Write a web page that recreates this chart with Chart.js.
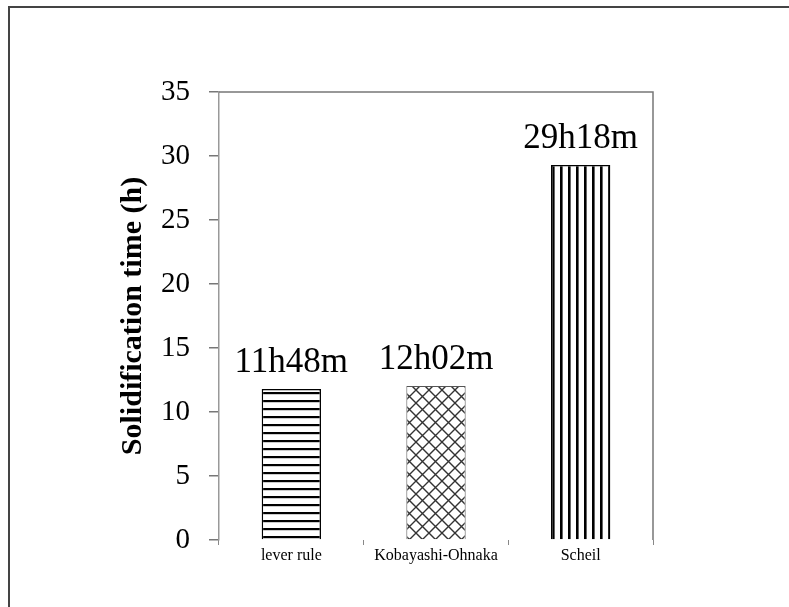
<!DOCTYPE html>
<html>
<head>
<meta charset="utf-8">
<script src="https://cdn.jsdelivr.net/npm/chart.js@4"></script>
<style>
  html, body { margin: 0; padding: 0; background: #fff; }
  #wrap { position: relative; width: 789px; height: 607px; overflow: hidden; background: #fff; }
  #frame { position: absolute; left: 8px; top: 6px; width: 900px; height: 700px;
           border-top: 2px solid #444; border-left: 2px solid #444; }
  canvas { position: absolute; left: 0; top: 0; }
</style>
</head>
<body>
<div id="wrap">
  <div id="frame"></div>
  <canvas id="c" width="789" height="607"></canvas>
</div>
<script>
const categories = ['lever rule', 'Kobayashi-Ohnaka', 'Scheil'];
const solidTimes = [11.8, 12.03, 29.3];
const timeLabels = ['11h48m', '12h02m', '29h18m'];
const yTicks = [0, 5, 10, 15, 20, 25, 30, 35];

function makePattern(kind) {
  const p = document.createElement('canvas');
  const ctx = p.getContext('2d');
  if (kind === 'h') {
    p.width = 8; p.height = 8;
    ctx.fillStyle = '#fff'; ctx.fillRect(0, 0, 8, 8);
    ctx.fillStyle = '#000'; ctx.fillRect(0, 0, 8, 2.2);
  } else if (kind === 'v') {
    p.width = 8; p.height = 8;
    ctx.fillStyle = '#fff'; ctx.fillRect(0, 0, 8, 8);
    ctx.fillStyle = '#000'; ctx.fillRect(0, 0, 2.6, 8);
  } else {
    const s = 13;
    p.width = s; p.height = s;
    ctx.fillStyle = '#fff'; ctx.fillRect(0, 0, s, s);
    ctx.strokeStyle = '#333'; ctx.lineWidth = 1.4;
    ctx.beginPath();
    ctx.moveTo(-1, -1); ctx.lineTo(s + 1, s + 1);
    ctx.moveTo(s + 1, -1); ctx.lineTo(-1, s + 1);
    ctx.stroke();
  }
  return document.getElementById('c').getContext('2d').createPattern(p, 'repeat');
}

const fills = [makePattern('h'), makePattern('x'), makePattern('v')];

const boxPlugin = {
  id: 'box',
  afterDraw(chart) {
    const {ctx, chartArea: a} = chart;
    ctx.save();
    ctx.strokeStyle = '#777';
    ctx.lineWidth = 1.5;
    ctx.beginPath();
    ctx.moveTo(a.left, a.top);
    ctx.lineTo(a.right, a.top);
    ctx.lineTo(a.right, a.bottom);
    ctx.stroke();
    ctx.restore();
  }
};

const labelPlugin = {
  id: 'barLabels',
  afterDatasetsDraw(chart) {
    const {ctx} = chart;
    const meta = chart.getDatasetMeta(0);
    ctx.save();
    ctx.fillStyle = '#000';
    ctx.font = '35px "Liberation Serif", "Times New Roman", serif';
    ctx.textAlign = 'center';
    ctx.textBaseline = 'alphabetic';
    meta.data.forEach((el, i) => {
      ctx.fillText(timeLabels[i], el.x, el.y - 17);
    });
    ctx.restore();
  }
};

new Chart(document.getElementById('c'), {
  type: 'bar',
  data: {
    labels: categories,
    datasets: [{
      data: solidTimes,
      backgroundColor: fills,
      borderColor: ['#000', '#555', '#000'],
      borderWidth: [1.5, 1, 1.5],
      categoryPercentage: 1,
      barPercentage: 0.41
    }]
  },
  options: {
    responsive: false,
    animation: false,
    layout: { padding: { left: 0, top: 92, right: 136, bottom: 0 } },
    plugins: { legend: { display: false }, tooltip: { enabled: false } },
    scales: {
      x: {
        type: 'category',
        offset: true,
        grid: { display: true, offset: true, drawOnChartArea: false, drawTicks: true, tickLength: 5, color: '#888', lineWidth: 1 },
        border: { display: false },
        ticks: { color: '#000', padding: 1, font: { family: '"Liberation Serif", "Times New Roman", serif', size: 16 } },
        afterFit(s) { s.height = 67; }
      },
      y: {
        min: 0, max: 35,
        afterBuildTicks(s) { s.ticks = yTicks.map(v => ({ value: v })); },
        grid: { display: true, drawOnChartArea: false, drawTicks: true, tickLength: 10, color: '#777', lineWidth: 1.5 },
        border: { display: true, color: '#999', width: 1.5 },
        ticks: { color: '#000', padding: 19, font: { family: '"Liberation Serif", "Times New Roman", serif', size: 29 } },
        title: {
          display: true,
          text: 'Solidification time (h)',
          color: '#000',
          font: { family: '"Liberation Serif", "Times New Roman", serif', size: 30, weight: 'bold' },
          padding: { top: 115, bottom: 0 }
        },
        afterFit(s) { s.width = 219; }
      }
    }
  },
  plugins: [boxPlugin, labelPlugin]
});
</script>
</body>
</html>
